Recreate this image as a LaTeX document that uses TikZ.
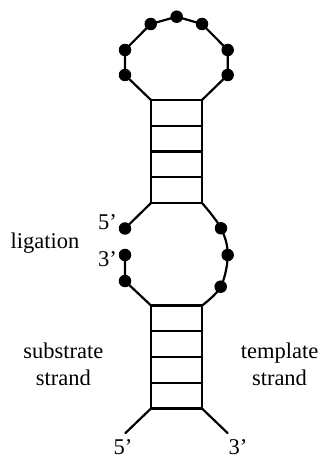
\documentclass[tikz,border=0pt]{standalone}
\usepackage{fontspec}
\setmainfont{Liberation Serif}
\usetikzlibrary{positioning, calc}
\definecolor{strandInk}{RGB}{0, 0, 0}
\tikzset{
  strand/.style={
    draw=strandInk, line width=2.2pt, line join=round, line cap=round,
  },
  rung/.style={
    draw=strandInk, line width=2.2pt,
  },
  nt/.style={
    circle, fill=strandInk, inner sep=0pt, minimum size=12.5pt,
  },
  lbl/.style={
    font=\fontsize{22.5}{27}\selectfont, inner sep=0pt, align=center,
  },
}

\begin{document}
\begin{tikzpicture}[x=1pt, y=1pt]
\useasboundingbox (0,0) rectangle (321,459);

% =========================================================================
% stems -- upper and lower, 4 base pairs each
% =========================================================================

\coordinate (upTL) at (151,359);
\coordinate (upTR) at (202,359);
\coordinate (upBL) at (151,256);
\coordinate (upBR) at (202,256);

\coordinate (loTL) at (151,153.5);
\coordinate (loTR) at (202,153.5);
\coordinate (loBL) at (151,50.5);
\coordinate (loBR) at (202,50.5);

\draw[strand] (upTL) -- (upBL);
\draw[strand] (upTR) -- (upBR);
\draw[strand] (loTL) -- (loBL);
\draw[strand] (loTR) -- (loBR);

\foreach \k in {0,...,4}{
  \draw[rung] ($(upTL)+(0,-25.75*\k)$) -- ($(upTR)+(0,-25.75*\k)$);
  \draw[rung] ($(loTL)+(0,-25.75*\k)$) -- ($(loTR)+(0,-25.75*\k)$);
}

% =========================================================================
% hairpin loop on top
% =========================================================================

\node[nt] (h1) at (125,384) {};
\node[nt] (h2) at (125,409) {};
\node[nt] (h3) at (150.7,435) {};
\node[nt] (h4) at (176.7,442.3) {};
\node[nt] (h5) at (202,435) {};
\node[nt] (h6) at (227.7,409) {};
\node[nt] (h7) at (227.7,384) {};

\draw[strand] (upTL) -- (h1.center) -- (h2.center) -- (h3.center)
  -- (h4.center) -- (h5.center) -- (h6.center) -- (h7.center) -- (upTR);

% =========================================================================
% internal loop -- nick on the substrate strand
% =========================================================================

\node[nt] (sub5) at (125,230.5) {};
\node[nt] (sub3) at (125,204) {};
\node[nt] (sub2) at (125,178) {};

\node[nt] (tpl1) at (221,230.7) {};
\node[nt] (tpl2) at (227.7,204) {};
\node[nt] (tpl3) at (220.7,172.3) {};

\draw[strand] (upBL) -- (sub5.center);
\draw[strand] (sub3.center) -- (sub2.center) -- (loTL);
\draw[strand] plot[smooth, tension=0.6] coordinates
  {(upBR) (tpl1.center) (tpl2.center) (tpl3.center) (loTR)};

% =========================================================================
% free ends
% =========================================================================

\coordinate (end5) at (125.5,26);
\coordinate (end3) at (227.5,26);

\draw[strand] (loBL) -- (end5);
\draw[strand] (loBR) -- (end3);

% =========================================================================
% labels
% =========================================================================

\node[lbl, anchor=base west] (lab5in) at (98,229.7) {5'};
\node[lbl, anchor=base west] (lab3in) at (98,192.3) {3'};
\node[lbl, anchor=base] (lig) at (45,210.7) {ligation};

\node[lbl, anchor=base] (subst) at (63.3,74) {substrate\\strand};
\node[lbl, anchor=base] (templ) at (279.5,74) {template\\strand};

\node[lbl, anchor=base] (lab5out) at (123,4.5) {5'};
\node[lbl, anchor=base] (lab3out) at (238,4.5) {3'};

\end{tikzpicture}
\end{document}
